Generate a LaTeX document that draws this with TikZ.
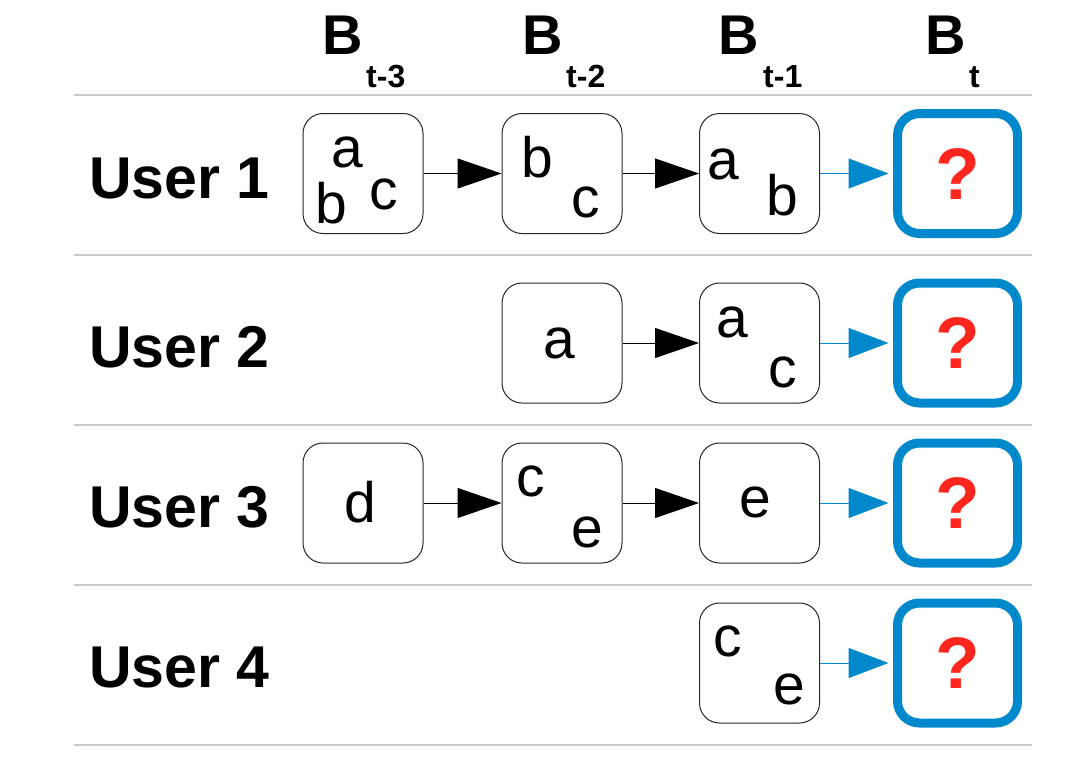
\documentclass[tikz,border=0pt]{standalone}
\usepackage{fontspec}
\setmainfont{Liberation Sans}
\usetikzlibrary{arrows.meta}
\definecolor{qblue}{RGB}{0,136,204}
\definecolor{qred}{RGB}{255,38,30}
\definecolor{sepgray}{RGB}{200,200,200}
\begin{document}
\begin{tikzpicture}[x=1pt,y=-1pt,
  box/.style={draw=black!85, line width=1pt, rounded corners=20pt, minimum width=120pt, minimum height=120pt, inner sep=0pt},
  qbox/.style={draw=qblue, line width=9pt, rounded corners=22pt, minimum width=120pt, minimum height=120pt, inner sep=0pt},
  lt/.style={anchor=base, inner sep=0pt, font=\fontsize{57}{57}\selectfont},
  qm/.style={anchor=base, inner sep=0pt, text=qred, font=\fontsize{73}{73}\selectfont\bfseries},
  usr/.style={anchor=base west, inner sep=0pt, font=\fontsize{59}{59}\selectfont\bfseries},
  hb/.style={anchor=base west, inner sep=0pt, font=\fontsize{56}{56}\selectfont\bfseries},
  hs/.style={anchor=base west, inner sep=0pt, font=\fontsize{32}{32}\selectfont\bfseries},
  sep/.style={draw=sepgray, line width=1.5pt},
  arr/.style={draw=black, line width=1pt, -{Triangle[length=44pt,width=30pt]}},
  barr/.style={draw=qblue, line width=1pt, -{Triangle[length=40pt,width=30pt]}, shorten >=4.5pt}
]
\useasboundingbox (0,0) rectangle (1076,774);
\fill[white] (0,0) rectangle (1076,774);

% separators
\foreach \yy in {95,255,425,585,745} {\draw[sep] (74,\yy) -- (1032,\yy);}

% headers
\node[hb] (h1) at (322,54) {B};
\node[hs] (h1s) at (366,87) {t-3};
\node[hb] (h2) at (522,54) {B};
\node[hs] (h2s) at (566,87) {t-2};
\node[hb] (h3) at (718,54) {B};
\node[hs] (h3s) at (763,87) {t-1};
\node[hb] (h4) at (925,54) {B};
\node[hs] (h4s) at (969,87) {t};

% user labels
\node[usr] (u1) at (89,198) {User 1};
\node[usr] (u2) at (89,367.5) {User 2};
\node[usr] (u3) at (89,527.5) {User 3};
\node[usr] (u4) at (89,687.5) {User 4};

% boxes
\node[box] (b11) at (363,173.5) {};
\node[box] (b12) at (562,173.5) {};
\node[box] (b13) at (759.5,173.5) {};
\node[qbox] (q1) at (957.5,173.5) {};

\node[box] (b22) at (562,343) {};
\node[box] (b23) at (759.5,343) {};
\node[qbox] (q2) at (957.5,343) {};

\node[box] (b31) at (363,503) {};
\node[box] (b32) at (562,503) {};
\node[box] (b33) at (759.5,503) {};
\node[qbox] (q3) at (957.5,503) {};

\node[box] (b43) at (759.5,663) {};
\node[qbox] (q4) at (957.5,663) {};

% letters
\node[lt] (l11a) at (347.5,167) {a};
\node[lt] (l11b) at (331,223) {b};
\node[lt] (l11c) at (384,209) {c};
\node[lt] (l12b) at (537.5,177) {b};
\node[lt] (l12c) at (586,217) {c};
\node[lt] (l13a) at (723,179) {a};
\node[lt] (l13b) at (782.5,215) {b};

\node[lt] (l22a) at (559,358) {a};
\node[lt] (l23a) at (732,337) {a};
\node[lt] (l23c) at (783,387) {c};

\node[lt] (l31d) at (360,522) {d};
\node[lt] (l32c) at (531,496) {c};
\node[lt] (l32e) at (587,547) {e};
\node[lt] (l33e) at (755,517) {e};

\node[lt] (l43c) at (728,656) {c};
\node[lt] (l43e) at (789,704) {e};

\node[qm] (qm1) at (958,199) {?};
\node[qm] (qm2) at (958,368.5) {?};
\node[qm] (qm3) at (958,528.5) {?};
\node[qm] (qm4) at (958,688.5) {?};

% arrows
\draw[arr] (b11) -- (b12);
\draw[arr] (b12) -- (b13);
\draw[barr] (b13) -- (q1);
\draw[arr] (b22) -- (b23);
\draw[barr] (b23) -- (q2);
\draw[arr] (b31) -- (b32);
\draw[arr] (b32) -- (b33);
\draw[barr] (b33) -- (q3);
\draw[barr] (b43) -- (q4);
\end{tikzpicture}
\end{document}
